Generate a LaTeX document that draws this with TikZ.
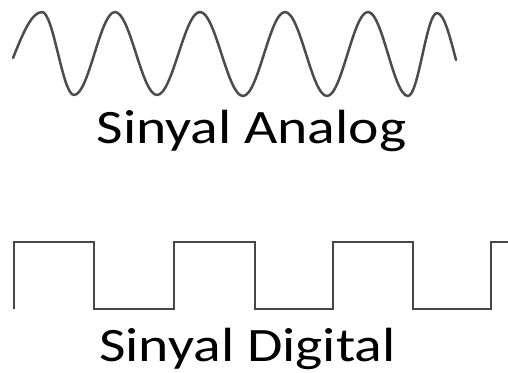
\documentclass[tikz,border=0pt]{standalone}
\usepackage{fontspec}
\setmainfont{Carlito}
\begin{document}
\begin{tikzpicture}[x=1pt,y=-1pt,
  wave/.style={draw=black!70,line width=2.5pt,line join=round,line cap=round},
  squarewave/.style={draw=black!72,line width=1.7pt,line join=miter},
  caption/.style={font=\fontsize{48}{52}\selectfont,text=black,inner sep=0pt,anchor=base,xscale=1.2}]
\useasboundingbox[fill=white] (0,0) rectangle (508,372);
% analog
\draw[wave] (13,58) sin (42,12) cos (58,53.5) sin (74,95)
  cos (94.5,53.5) sin (115,12) cos (136,53.5) sin (157,95)
  cos (178.5,53.5) sin (200,12) cos (221.5,54) sin (243,96)
  cos (264,54) sin (285,12) cos (306,54) sin (327,96)
  cos (347.5,54) sin (368,12) cos (388,54) sin (408,96)
  cos (422.5,54.5) sin (437,13) cos (456,60);
\node[caption] (analog) at (251.5,143) {Sinyal Analog};
% digital
\draw[squarewave] (14,309) -- (14,242) -- (94,242) -- (94,309) -- (174,309)
  -- (174,242) -- (255,242) -- (255,309) -- (333,309) -- (333,242)
  -- (413,242) -- (413,309) -- (491,309) -- (491,242) -- (508,242);
\node[caption] (digital) at (247.5,361) {Sinyal Digital};
\end{tikzpicture}
\end{document}
